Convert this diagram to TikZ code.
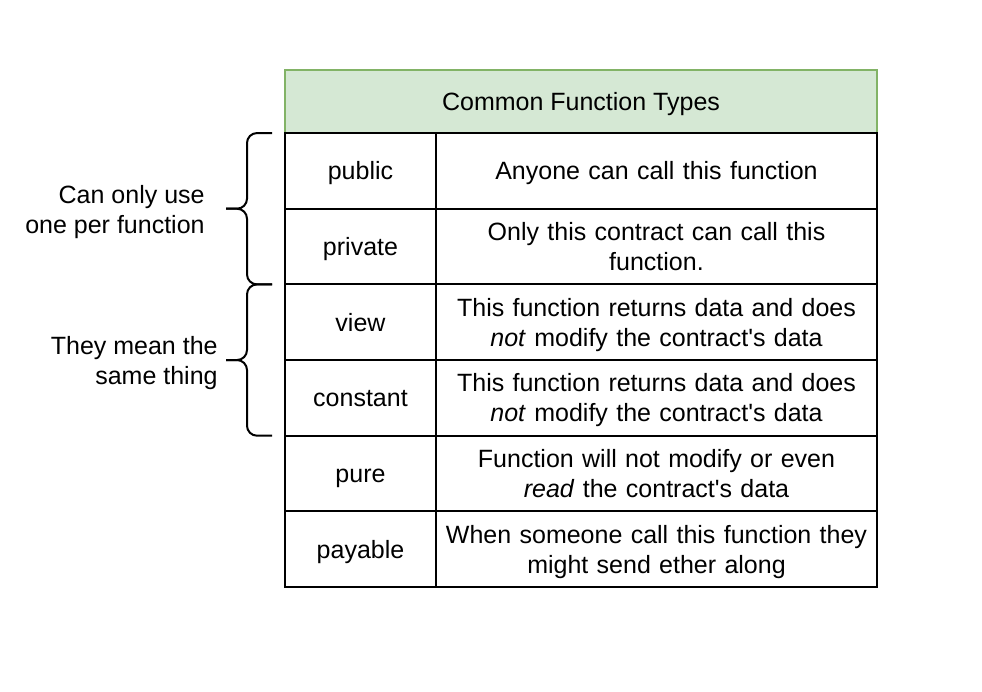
\documentclass[tikz,border=0pt]{standalone}
\usepackage{fontspec}
\setmainfont{Liberation Sans}
\usetikzlibrary{positioning}
\definecolor{headfill}{HTML}{D5E8D4}
\definecolor{headline}{HTML}{82B366}
\newcommand{\q}{\textquotesingle}

\begin{document}
\begin{tikzpicture}[x=0.5pt, y=-0.5pt,
    cell/.style={draw, line width=1pt, inner sep=0pt, outer sep=0pt, align=center,
        font=\fontsize{12.5}{15}\selectfont, minimum height=37.83pt},
    oneline/.style={text height=10pt, text depth=1pt},
    twoline/.style={execute at begin node={\rule{0pt}{12.1pt}},
        execute at end node={\rule[-3pt]{0pt}{3pt}}},
    keycell/.style={cell, oneline, minimum width=75.5pt},
    desccell/.style={cell, minimum width=220.5pt, text width=212pt},
    headcell/.style={cell, oneline, draw=headline, fill=headfill, minimum width=296pt, minimum height=31.5pt},
    curly/.style={line width=1pt, rounded corners=5pt},
    sidetext/.style={align=right, inner sep=0pt, yshift=-1.5pt, font=\fontsize{12.5}{15}\selectfont}]
        \useasboundingbox (0,0) rectangle (982,692);
        % header of the table
        \node[headcell] (head) at (581,101.5) {Common Function Types};
        % rows: keyword / meaning
        \foreach \k/\descr/\lines [count=\i] in {
            public/{Anyone can call this function}/oneline,
            private/{Only this contract can call this\\function.}/twoline,
            view/{This function returns data and does\\\textit{not} modify the contract\q s data}/twoline,
            constant/{This function returns data and does\\\textit{not} modify the contract\q s data}/twoline,
            pure/{Function will not modify or even\\\textit{read} the contract\q s data}/twoline,
            payable/{When someone call this function they\\might send ether along}/twoline}
        {
        \node[keycell] (k\i) at (360.5,{95.2+75.67*\i}) {\k};
        \node[desccell, \lines, right=0pt of k\i] (d\i) {\descr};
        }
        % braces
        \coordinate (tip1) at ([xshift=-29.5pt]k1.south west);
        \coordinate (tip2) at ([xshift=-29.5pt]k3.south west);
        \draw[curly] ([xshift=-6.5pt]k1.north west) -| ([xshift=-19pt]k1.south west) -- (tip1);
        \draw[curly] (tip1) -- ([xshift=-19pt]k1.south west) |- ([xshift=-6.5pt]k2.south west);
        \draw[curly] ([xshift=-6.5pt]k3.north west) -| ([xshift=-19pt]k3.south west) -- (tip2);
        \draw[curly] (tip2) -- ([xshift=-19pt]k3.south west) |- ([xshift=-6.5pt]k4.south west);
        % side notes
        \node[sidetext, left=10.5pt of tip1] (only) {Can only use\\one per function};
        \node[sidetext, left=4pt of tip2] (same) {They mean the\\same thing};
    \end{tikzpicture}
\end{document}
